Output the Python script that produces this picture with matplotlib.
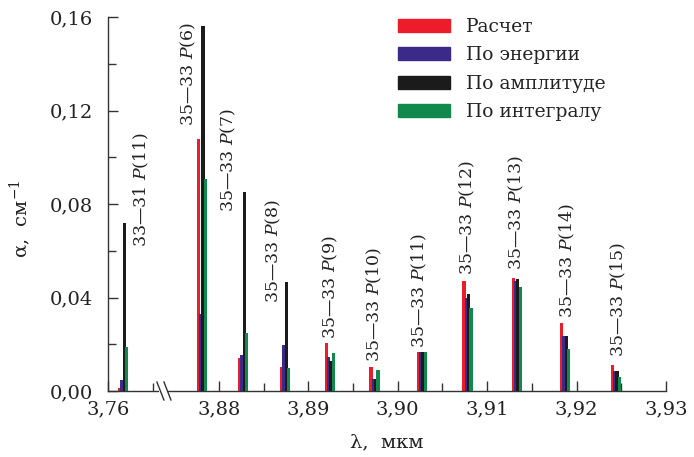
import matplotlib
matplotlib.use("Agg")
import matplotlib.pyplot as plt
import matplotlib.patches as mpatches
import numpy as np

# line centres, mkm
centers = [3.7617, 3.8781, 3.8827, 3.8874, 3.8924, 3.8974,
           3.9027, 3.9078, 3.9133, 3.9187, 3.9244]
line_names = ["33—31 $P$(11)", "35—33 $P$(6)", "35—33 $P$(7)", "35—33 $P$(8)",
              "35—33 $P$(9)", "35—33 $P$(10)", "35—33 $P$(11)", "35—33 $P$(12)",
              "35—33 $P$(13)", "35—33 $P$(14)", "35—33 $P$(15)"]

calc = [0.0013, 0.108, 0.014, 0.0104, 0.0205, 0.0104, 0.0166, 0.0469, 0.0483, 0.029, 0.011]
energy = [0.0047, 0.033, 0.0155, 0.0197, 0.0147, 0.0051, 0.0166, 0.040, 0.047, 0.0237, 0.0086]
amplitude = [0.072, 0.156, 0.085, 0.0465, 0.013, 0.0051, 0.0166, 0.0415, 0.048, 0.0237, 0.0086]
integral = [0.019, 0.0908, 0.0248, 0.0097, 0.0164, 0.009, 0.0166, 0.0355, 0.0443, 0.0179, 0.0061]

series_names = ["Расчет", "По энергии", "По амплитуде", "По интегралу"]
colors = ["#ec1c2a", "#3b2a8a", "#1b1b1b", "#11894c"]

# where the rotated labels sit (value of bottom edge, x shift in px)
label_bottom = [0.0618, 0.1133, 0.0764, 0.0378, 0.0222, 0.0126, 0.0184, 0.0498, 0.0519, 0.0312, 0.0144]
label_dx = [18.5, -14, -14.5, -11.5, 1, 0, -2, 0, 0, 2, 2]

# broken x axis: 3.76 part is shifted next to 3.88
SHIFT = 0.1076
BREAK = 3.874


def fwd(x):
    x = np.asarray(x, dtype=float)
    return np.where(x < 3.82, x + SHIFT, x)


def inv(p):
    p = np.asarray(p, dtype=float)
    return np.where(p < BREAK, p - SHIFT, p)


plt.rcParams["font.family"] = ["DejaVu Serif"]
plt.rcParams["mathtext.fontset"] = "dejavuserif"

fig = plt.figure(figsize=(6.94, 4.57), dpi=100)
ax = fig.add_axes([108 / 694, 66 / 457, 558 / 694, 374 / 457])
ax.set_xscale("function", functions=(fwd, inv))

w = 0.00036
step = 0.00026
allvals = [calc, energy, amplitude, integral]
for k, (vals, c) in enumerate(zip(allvals, colors)):
    xs = np.array(centers) + (k - 1.5) * step
    ax.bar(xs, vals, width=w, color=c, linewidth=0, zorder=2 + k)

for xc, name, yb, dx in zip(centers, line_names, label_bottom, label_dx):
    ax.annotate(name, xy=(xc, yb), xytext=(dx * 0.72, 0), textcoords="offset points",
                rotation=90, ha="center", va="bottom", fontsize=12.5, color="#222222")

ax.set_xlim(3.76, 3.93)
ax.set_ylim(0, 0.16)
ax.set_xticks([3.76, 3.88, 3.89, 3.90, 3.91, 3.92, 3.93])
ax.set_xticklabels(["3,76", "3,88", "3,89", "3,90", "3,91", "3,92", "3,93"])
ax.set_xticks([3.765, 3.885, 3.895, 3.905, 3.915, 3.925], minor=True)
ax.set_yticks([0, 0.04, 0.08, 0.12, 0.16])
ax.set_yticklabels(["0,00", "0,04", "0,08", "0,12", "0,16"])
ax.set_yticks([0.02, 0.06, 0.10, 0.14], minor=True)

ax.tick_params(which="both", direction="in", color="#333333", width=1,
               labelsize=14, labelcolor="#222222")
ax.tick_params(which="major", length=7)
ax.tick_params(which="minor", length=5.5)
ax.tick_params(axis="y", pad=11)
ax.tick_params(axis="x", pad=7)

for s in ["top", "right"]:
    ax.spines[s].set_visible(False)
for s in ["left", "bottom"]:
    ax.spines[s].set_color("#333333")
    ax.spines[s].set_linewidth(1)

# break marks on x axis
trans = ax.get_xaxis_transform()
ax.plot([3.7657, 3.7667], [0, 0], color="white", lw=3, transform=trans,
        clip_on=False, zorder=10, solid_capstyle="butt")
for xb in [3.76547, 3.76626]:
    ax.plot([xb, xb + 0.00078], [0.024, -0.024], color="#333333", lw=1,
            transform=trans, clip_on=False, zorder=11)

ax.set_xlabel("λ,  мкм", fontsize=14, color="#222222")
ax.xaxis.set_label_coords(0.5, -0.112)
ax.set_ylabel("α,  см$^{-1}$", fontsize=14, color="#222222")
ax.yaxis.set_label_coords(-0.135, 0.46)

handles = [mpatches.Patch(color=c, label=n) for c, n in zip(colors, series_names)]
ax.legend(handles=handles, loc="upper left", bbox_to_anchor=(398 / 694, 1 - 18 / 457),
          bbox_transform=fig.transFigure, frameon=False, fontsize=13.5,
          handlelength=2.8, handleheight=0.7, handletextpad=0.85,
          labelspacing=0.55, borderpad=0, borderaxespad=0, labelcolor="#222222")

fig.savefig("out.png", dpi=100)
